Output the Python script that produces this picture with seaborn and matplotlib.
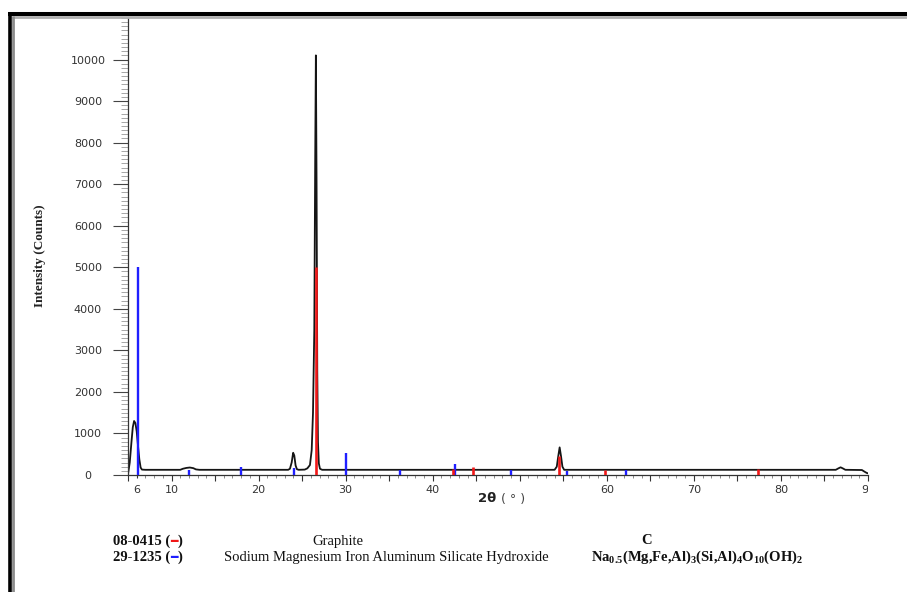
import matplotlib
matplotlib.use("Agg")
import matplotlib.pyplot as plt
from matplotlib.lines import Line2D
from matplotlib.ticker import MultipleLocator, FixedLocator, FixedFormatter
from matplotlib.offsetbox import TextArea, HPacker, AnnotationBbox
from matplotlib.transforms import Bbox, TransformedBbox
import pandas as pd
import seaborn as sns

# ---- measured diffraction pattern (2-theta in degrees, intensity in counts) ----
two_theta = [5.0, 5.2, 5.4, 5.55, 5.7, 5.85, 6.0, 6.15, 6.3, 6.45, 6.6, 7.0,
             11.0, 11.3, 11.7, 12.1, 12.5, 12.8, 13.2,
             23.4, 23.6, 23.8, 23.97, 24.1, 24.25, 24.4, 24.6,
             25.3, 25.6, 25.9, 26.1, 26.25, 26.4, 26.5, 26.58, 26.66, 26.74, 26.82, 26.92, 27.05, 27.3,
             54.0, 54.25, 54.42, 54.58, 54.74, 54.9, 55.1,
             86.3, 86.6, 86.85, 87.1, 87.4, 89.3, 89.6, 89.85, 90.0]
counts = [20, 300, 800, 1150, 1300, 1250, 1050, 700, 380, 180, 130, 125,
          125, 150, 170, 180, 165, 135, 125,
          125, 150, 300, 535, 470, 230, 140, 125,
          130, 160, 240, 600, 1500, 3500, 7500, 10100, 7000, 2500, 800, 280, 150, 125,
          125, 200, 450, 665, 450, 200, 125,
          125, 160, 185, 160, 125, 120, 80, 50, 40]

# ---- reference stick patterns ----
graphite_card = "08-0415"
graphite_pos = [26.6, 42.3, 44.6, 54.55, 59.8, 77.4]
graphite_int = [5000, 150, 200, 460, 130, 150]

silicate_card = "29-1235"
silicate_pos = [6.1, 12.0, 18.0, 24.05, 30.05, 36.25, 42.55, 49.05, 55.45, 62.2]
silicate_int = [5000, 110, 200, 180, 540, 120, 260, 120, 100, 110]

x_tick_values = [6, 10, 20, 30, 40, 60, 70, 80, 90]
x_tick_labels = ["6", "10", "20", "30", "40", "60", "70", "80", "90"]
y_tick_values = [0, 1000, 2000, 3000, 4000, 5000, 6000, 7000, 8000, 9000, 10000]

phase_names = ["Graphite", "Sodium Magnesium Iron Aluminum Silicate Hydroxide"]
phase_formulas = ["C", r"Na$_{\mathbf{0.5}}$(Mg,Fe,Al)$_{\mathbf{3}}$(Si,Al)$_{\mathbf{4}}$O$_{\mathbf{10}}$(OH)$_{\mathbf{2}}$"]

sns.set_style("ticks")
plt.rcParams["font.family"] = ["DejaVu Sans"]
plt.rcParams["mathtext.fontset"] = "custom"
plt.rcParams["mathtext.rm"] = "Liberation Serif:bold"
plt.rcParams["mathtext.bf"] = "Liberation Serif:bold"
plt.rcParams["mathtext.it"] = "Liberation Serif:bold"

W, H = 907, 592
fig = plt.figure(figsize=(W / 100, H / 100), dpi=100)
fig.patch.set_facecolor("white")


def fx(px):
    return px / W


def fy(py):
    return 1 - py / H


ax = fig.add_axes([fx(128), fy(475), fx(868) - fx(128), fy(18) - fy(475)])
ax.set_facecolor("white")

pattern = pd.DataFrame({"two_theta": two_theta, "counts": counts})
sns.lineplot(data=pattern, x="two_theta", y="counts", ax=ax, color="#151515",
             linewidth=1.3, estimator=None, sort=False, zorder=2)

ax.vlines(silicate_pos, 0, silicate_int, color="#1f1fff", linewidth=1.7, zorder=3)
ax.vlines(graphite_pos, 0, graphite_int, color="#f01818", linewidth=1.9, zorder=3)

ax.set_xlim(5, 90)
ax.set_ylim(0, 11000)
ax.set_xlabel("")
ax.set_ylabel("")

for side in ["top", "right"]:
    ax.spines[side].set_visible(False)
for side in ["left", "bottom"]:
    ax.spines[side].set_color("#333333")
    ax.spines[side].set_linewidth(0.9)

ax.tick_params(which="both", bottom=True, left=True, top=False, right=False)

# x axis ticks
major_x = sorted(set(list(range(5, 91, 5)) + [6]))
ax.xaxis.set_major_locator(FixedLocator(major_x))
lab = {v: t for v, t in zip(x_tick_values, x_tick_labels)}
ax.xaxis.set_major_formatter(FixedFormatter([lab.get(v, "") for v in major_x]))
ax.xaxis.set_minor_locator(MultipleLocator(1))
ax.tick_params(axis="x", which="major", direction="out", length=4.3, width=0.8,
               color="#333333", pad=2.6, labelsize=8, labelcolor="#333333")
ax.tick_params(axis="x", which="minor", direction="out", length=2.5, width=0.6,
               color="#777777")
clip = TransformedBbox(Bbox([[-1, -1], [1, 2]]), ax.transAxes)
for v, tick in zip(major_x, ax.xaxis.get_major_ticks()):
    if v == 6:
        tick.tick1line.set_markersize(2.5)
    tick.label1.set_clip_on(True)
    tick.label1.set_clip_box(clip)

# y axis ticks
ax.yaxis.set_major_locator(FixedLocator(y_tick_values))
ax.yaxis.set_major_formatter(FixedFormatter([str(v) for v in y_tick_values]))
ax.yaxis.set_minor_locator(MultipleLocator(100))
ax.tick_params(axis="y", which="major", direction="out", length=10.8, width=0.8,
               color="#444444", pad=18, labelsize=8, labelcolor="#333333")
ax.tick_params(axis="y", which="minor", direction="out", length=5.0, width=0.6,
               color="#999999")
for t in ax.get_yticklabels():
    t.set_horizontalalignment("center")

# axis titles
fig.text(fx(40), fy(256), "Intensity (Counts)", rotation=90, ha="center", va="center",
         fontfamily="Liberation Serif", fontweight="bold", fontsize=9.5, color="#222222")

xl = HPacker(children=[TextArea("2θ ", textprops=dict(fontfamily="DejaVu Sans", fontweight="bold",
                                                      fontsize=9.5, color="#222222")),
                       TextArea("( ° )", textprops=dict(fontfamily="DejaVu Sans", fontsize=9,
                                                        color="#444444"))],
             sep=0, pad=0, align="baseline")
fig.add_artist(AnnotationBbox(xl, (fx(502), fy(499)), xycoords="figure fraction",
                              box_alignment=(0.5, 0.5), frameon=False, pad=0))

# phase list under the plot
serif_b = dict(fontfamily="Liberation Serif", fontweight="bold", fontsize=10.5, color="#111111")
serif_r = dict(fontfamily="Liberation Serif", fontsize=10.5, color="#111111")
for card, col, ypx in [(graphite_card, "#f01818", 541), (silicate_card, "#1f1fff", 557)]:
    row = HPacker(children=[TextArea(card + " (", textprops=serif_b),
                            TextArea("\u2501", textprops=dict(fontfamily="DejaVu Sans",
                                                              fontsize=9, color=col)),
                            TextArea(")", textprops=serif_b)],
                  sep=0, pad=0, align="baseline")
    fig.add_artist(AnnotationBbox(row, (fx(113), fy(ypx)), xycoords="figure fraction",
                                  box_alignment=(0, 0.5), frameon=False, pad=0))

fig.text(fx(338), fy(541), phase_names[0], ha="center", va="center", **serif_r)
fig.text(fx(386), fy(557), phase_names[1], ha="center", va="center", **serif_r)
fig.text(fx(647), fy(541), phase_formulas[0], ha="center", va="center", **serif_b)
fig.text(fx(697), fy(557), phase_formulas[1], ha="center", va="center", **serif_b)

# page frame
fig.add_artist(Line2D([fx(8), 1], [fy(13.7), fy(13.7)], color="black", linewidth=2.9,
                      solid_capstyle="butt"))
fig.add_artist(Line2D([fx(12), 1], [fy(17.3), fy(17.3)], color="#b0b0b0", linewidth=2.0,
                      solid_capstyle="butt"))
fig.add_artist(Line2D([fx(10), fx(10)], [fy(12), 0], color="black", linewidth=2.6,
                      solid_capstyle="butt"))
fig.add_artist(Line2D([fx(13.4), fx(13.4)], [fy(15.5), 0], color="#8c8c8c", linewidth=2.0,
                      solid_capstyle="butt"))

fig.savefig("out.png", dpi=100, facecolor="white")
